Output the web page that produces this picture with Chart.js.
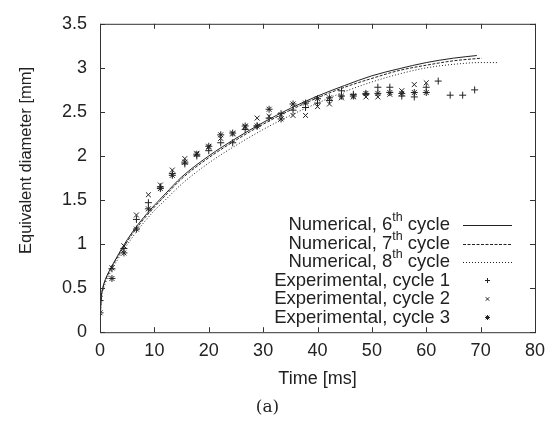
<!DOCTYPE html>
<html>
<head>
<meta charset="utf-8">
<script src="https://cdn.jsdelivr.net/npm/chart.js@4.4.1/dist/chart.umd.min.js"></script>
<style>
  html, body { margin: 0; padding: 0; background: #fff; }
  #wrap { width: 555px; height: 421px; }
</style>
</head>
<body>
<div id="wrap"><canvas id="chart" width="555" height="421"></canvas></div>
<script>
const FONT = "'Liberation Sans', Arimo, Arial, sans-serif";
const SERIF = "'DejaVu Serif', 'Liberation Serif', serif";
const INK = '#222';

// numerical curves (6th, 7th, 8th cycle)
const tNum6 = [0, 0.2, 0.5, 1, 2, 3, 4, 6, 8, 10, 12, 15, 20, 25, 30, 35, 40, 45, 50, 55, 60, 65, 69.3];
const dNum6 = [0.1, 0.38, 0.5, 0.6, 0.73, 0.84, 0.95, 1.14, 1.30, 1.44, 1.57, 1.76, 2.00, 2.20, 2.38, 2.54, 2.68, 2.80, 2.91, 2.99, 3.06, 3.11, 3.14];
const tNum7 = [0, 0.2, 0.5, 1, 2, 3, 4, 6, 8, 10, 12, 15, 20, 25, 30, 35, 40, 45, 50, 55, 60, 65, 70.2];
const dNum7 = [0.1, 0.37, 0.49, 0.59, 0.72, 0.83, 0.93, 1.12, 1.28, 1.42, 1.55, 1.74, 1.98, 2.18, 2.36, 2.52, 2.66, 2.78, 2.88, 2.97, 3.03, 3.08, 3.11];
const tNum8 = [0, 0.2, 0.5, 1, 2, 3, 4, 6, 8, 10, 12, 15, 20, 25, 30, 35, 40, 45, 50, 55, 60, 65, 70, 73];
const dNum8 = [0.1, 0.35, 0.46, 0.56, 0.69, 0.80, 0.90, 1.08, 1.24, 1.38, 1.50, 1.68, 1.92, 2.12, 2.30, 2.46, 2.60, 2.73, 2.84, 2.93, 3.00, 3.04, 3.06, 3.06];

// experimental cycles
const tExp = [0, 2.2, 4.4, 6.7, 8.9, 11.1, 13.3, 15.6, 17.8, 20.0, 22.2, 24.4, 26.7, 28.9, 31.1, 33.3,
              35.5, 37.8, 40.0, 42.2, 44.4, 46.6, 48.9, 51.1, 53.3, 55.5, 57.8, 60.0, 62.2, 64.4, 66.7, 68.9];
const dExp1 = [0.36, 0.72, 0.95, 1.28, 1.47, 1.65, 1.80, 1.91, 2.00, 2.06, 2.15, 2.15, 2.30, 2.34, 2.43, 2.48,
               2.52, 2.55, 2.60, 2.63, 2.74, 2.70, 2.70, 2.78, 2.78, 2.68, 2.67, 2.78, 2.85, 2.69, 2.69, 2.75];
const dExp2 = [0.38, 0.73, 0.98, 1.33, 1.56, 1.67, 1.84, 1.97, 2.03, 2.10, 2.20, 2.25, 2.33, 2.43, 2.45, 2.47,
               2.46, 2.46, 2.56, 2.59, 2.66, 2.67, 2.67, 2.67, 2.70, 2.74, 2.81, 2.83];
const dExp3 = [0.22, 0.61, 0.90, 1.17, 1.40, 1.63, 1.78, 1.93, 2.02, 2.11, 2.24, 2.26, 2.34, 2.34, 2.53, 2.42,
               2.59, 2.60, 2.65, 2.66, 2.68, 2.68, 2.71, 2.71, 2.72, 2.71, 2.72, 2.72];

const xTicks = [0, 10, 20, 30, 40, 50, 60, 70, 80];
const yTicks = [0, 0.5, 1, 1.5, 2, 2.5, 3, 3.5];

// legend text, superscript parts kept apart
const legendText = [
  ['Numerical, 6', 'th', ' cycle'],
  ['Numerical, 7', 'th', ' cycle'],
  ['Numerical, 8', 'th', ' cycle'],
  ['Experimental, cycle 1'],
  ['Experimental, cycle 2'],
  ['Experimental, cycle 3'],
];
const yTitle = 'Equivalent diameter [mm]';

const pts = (xs, ys) => ys.map((y, i) => ({ x: xs[i], y: y }));

const lineSet = (xs, ys, dash) => ({
  data: pts(xs, ys),
  showLine: true,
  borderColor: INK,
  borderWidth: 1,
  borderDash: dash,
  pointRadius: 0,
  cubicInterpolationMode: 'monotone',
});
const markSet = (ys, style) => ({
  data: pts(tExp, ys),
  showLine: false,
  pointStyle: style,
  pointRadius: 3.5,
  pointBorderWidth: 1,
  pointBorderColor: INK,
  pointBackgroundColor: 'rgba(0,0,0,0)',
});

// box + inward ticks on all four sides, y label
const framePlugin = {
  id: 'frame',
  afterDatasetsDraw(chart) {
    const { ctx, chartArea: a, scales: { x, y } } = chart;
    ctx.save();
    ctx.strokeStyle = '#333';
    ctx.lineWidth = 1;
    ctx.strokeRect(a.left + 0.5, a.top + 0.5, a.right - a.left, a.bottom - a.top);
    ctx.beginPath();
    x.ticks.forEach(t => {
      const px = Math.round(x.getPixelForValue(t.value)) + 0.5;
      ctx.moveTo(px, a.bottom); ctx.lineTo(px, a.bottom - 5);
      ctx.moveTo(px, a.top); ctx.lineTo(px, a.top + 5);
    });
    y.ticks.forEach(t => {
      const py = Math.round(y.getPixelForValue(t.value)) + 0.5;
      ctx.moveTo(a.left, py); ctx.lineTo(a.left + 5, py);
      ctx.moveTo(a.right, py); ctx.lineTo(a.right - 5, py);
    });
    ctx.stroke();
    // y axis title (gnuplot puts it a bit above the middle)
    ctx.translate(26, 160.5);
    ctx.rotate(-Math.PI / 2);
    ctx.fillStyle = INK;
    ctx.font = '16.5px ' + FONT;
    ctx.textAlign = 'center';
    ctx.textBaseline = 'middle';
    ctx.fillText(yTitle, 0, 0);
    ctx.restore();
  }
};

// gnuplot-like key: text right aligned, sample on the right
const keyPlugin = {
  id: 'key',
  afterDatasetsDraw(chart) {
    const ctx = chart.ctx;
    const main = '18.5px ' + FONT, sup = '12.5px ' + FONT;
    const textRight = 450, x0 = 463, x1 = 512, top = 225, step = 18.5;
    ctx.save();
    ctx.fillStyle = INK;
    ctx.textBaseline = 'middle';
    chart.data.datasets.forEach((ds, i) => {
      const yy = top + i * step;
      const parts = legendText[i];
      ctx.font = main;
      let w = ctx.measureText(parts[0]).width;
      if (parts.length > 1) {
        ctx.font = sup; w += ctx.measureText(parts[1]).width;
        ctx.font = main; w += ctx.measureText(parts[2]).width;
      }
      let cx = textRight - w;
      ctx.textAlign = 'left';
      ctx.font = main;
      ctx.fillText(parts[0], cx, yy);
      cx += ctx.measureText(parts[0]).width;
      if (parts.length > 1) {
        ctx.font = sup;
        ctx.fillText(parts[1], cx, yy - 7);
        cx += ctx.measureText(parts[1]).width;
        ctx.font = main;
        ctx.fillText(parts[2], cx, yy);
      }
      if (ds.showLine) {
        ctx.save();
        ctx.strokeStyle = ds.borderColor;
        ctx.lineWidth = ds.borderWidth;
        ctx.setLineDash(ds.borderDash || []);
        ctx.beginPath();
        ctx.moveTo(x0, Math.round(yy) + 0.5);
        ctx.lineTo(x1, Math.round(yy) + 0.5);
        ctx.stroke();
        ctx.restore();
      } else {
        ctx.save();
        ctx.strokeStyle = ds.pointBorderColor;
        ctx.fillStyle = 'rgba(0,0,0,0)';
        Chart.helpers.drawPoint(ctx, { pointStyle: ds.pointStyle, radius: 2.5, rotation: 0, borderWidth: 1 },
          (x0 + x1) / 2, yy);
        ctx.restore();
      }
    });
    ctx.restore();
  }
};

new Chart(document.getElementById('chart'), {
  type: 'scatter',
  data: {
    datasets: [
      lineSet(tNum6, dNum6, []),
      lineSet(tNum7, dNum7, [3, 1.5]),
      lineSet(tNum8, dNum8, [1, 2]),
      markSet(dExp1, 'cross'),
      markSet(dExp2, 'crossRot'),
      markSet(dExp3, 'star'),
    ]
  },
  options: {
    responsive: false,
    animation: false,
    devicePixelRatio: 1,
    layout: { padding: { top: 15, right: 20, bottom: 0, left: 0 } },
    scales: {
      x: {
        type: 'linear',
        min: 0, max: 80,
        afterBuildTicks: s => { s.ticks = xTicks.map(v => ({ value: v })); },
        afterFit: s => { s.height = 65.4; },
        grid: { display: false, drawTicks: false },
        border: { display: false },
        ticks: { padding: 8, color: INK, font: { family: FONT, size: 18 }, callback: v => String(v) },
        title: { display: true, text: 'Time [ms]', color: INK, font: { family: FONT, size: 18 },
                 padding: { top: 0, bottom: 7.6 } },
      },
      y: {
        type: 'linear',
        min: 0, max: 3.5,
        afterBuildTicks: s => { s.ticks = yTicks.map(v => ({ value: v })); },
        afterFit: s => { s.width = 100; },
        grid: { display: false, drawTicks: false },
        border: { display: false },
        ticks: { padding: 13, color: INK, font: { family: FONT, size: 18 }, callback: v => String(v) },
        title: { display: false },
      }
    },
    plugins: {
      legend: { display: false },
      tooltip: { enabled: false },
      title: {
        display: true, text: '(a)', position: 'bottom', color: INK,
        font: { family: SERIF, size: 17, weight: 'normal' },
        padding: { top: 0, bottom: 3 },
      },
    }
  },
  plugins: [framePlugin, keyPlugin]
});
</script>
</body>
</html>
